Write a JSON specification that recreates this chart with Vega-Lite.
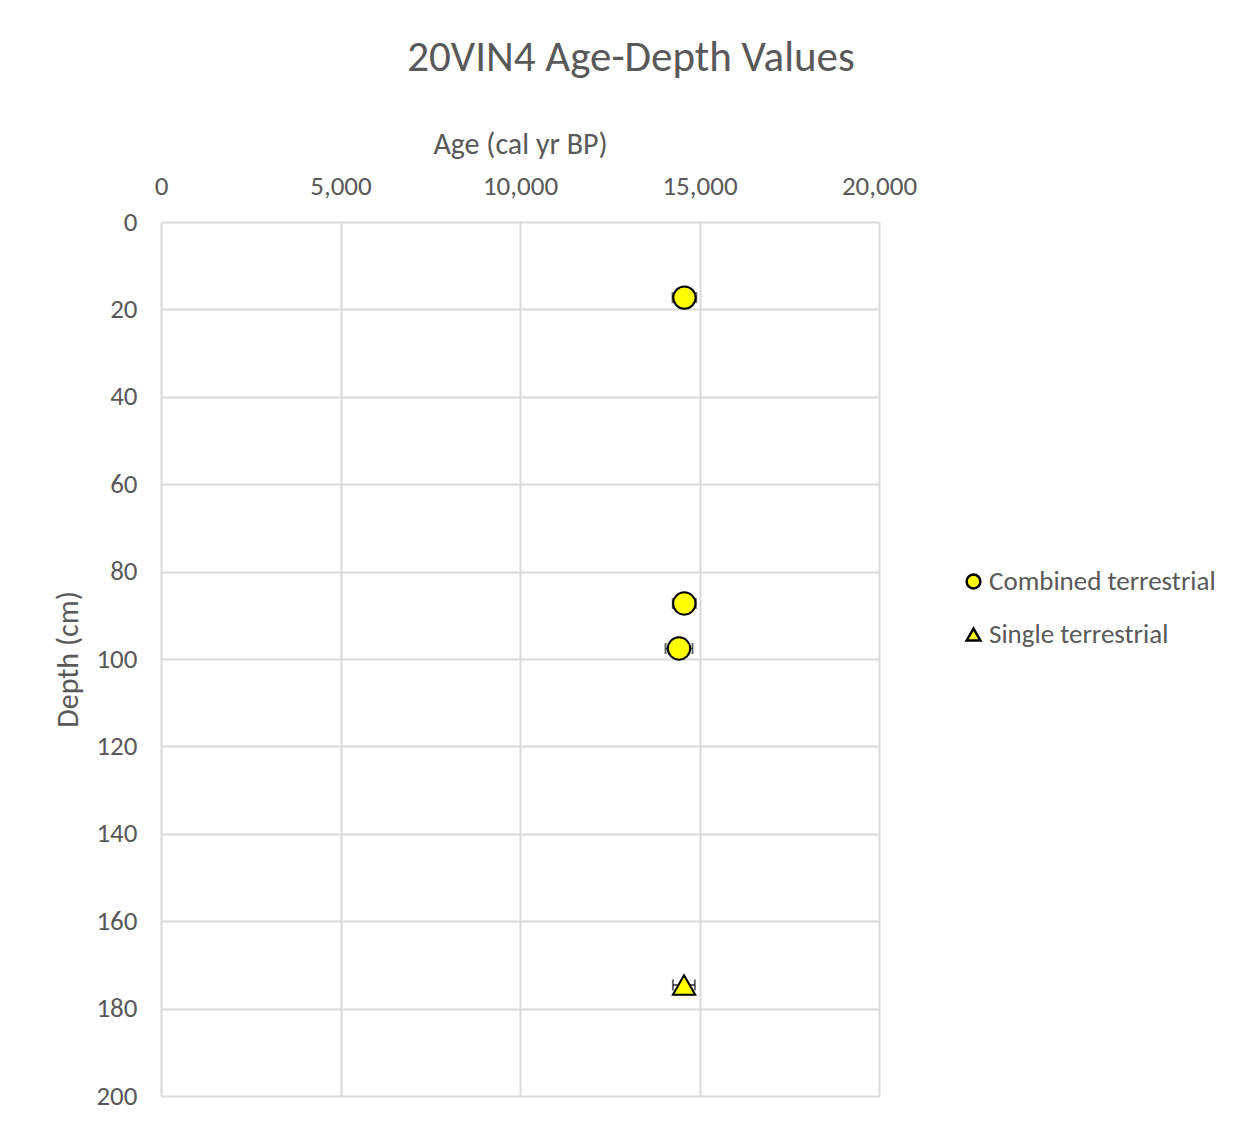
{
  "$schema": "https://vega.github.io/schema/vega-lite/v6.json",
  "width": 718,
  "height": 874,
  "autosize": {"type": "none"},
  "padding": {"left": 161, "top": 222, "right": 374, "bottom": 32},
  "background": "white",
  "title": {
    "text": "20VIN4 Age-Depth Values",
    "font": "Carlito, Lato",
    "fontSize": 43,
    "fontWeight": "normal",
    "color": "#595959",
    "anchor": "middle",
    "dx": 111,
    "offset": 49
  },
  "data": {
    "values": [
      {"age": 14580, "depth": 17.3, "lo": 14250, "hi": 14910, "type": "Combined terrestrial"},
      {"age": 14577, "depth": 87.3, "lo": 14257, "hi": 14897, "type": "Combined terrestrial"},
      {"age": 14429, "depth": 97.6, "lo": 14054, "hi": 14805, "type": "Combined terrestrial"},
      {"age": 14570, "depth": 174.6, "lo": 14260, "hi": 14870, "type": "Single terrestrial"}
    ]
  },
  "encoding": {
    "y": {
      "field": "depth",
      "type": "quantitative",
      "scale": {"domain": [0, 200], "reverse": true, "nice": false, "zero": false},
      "axis": {
        "title": "Depth (cm)",
        "values": [0, 20, 40, 60, 80, 100, 120, 140, 160, 180, 200],
        "labelPadding": 24,
        "titlePadding": 12
      }
    }
  },
  "layer": [
    {
      "mark": {"type": "rule", "color": "#262626", "strokeWidth": 1.5},
      "encoding": {
        "x": {"field": "lo", "type": "quantitative", "scale": {"domain": [0, 20000], "nice": false},
          "axis": {"orient": "top", "title": "Age (cal yr BP)", "values": [0, 5000, 10000, 15000, 20000], "format": ",d", "labelPadding": 22, "titlePadding": 13}},
        "x2": {"field": "hi"}
      }
    },
    {
      "mark": {"type": "tick", "orient": "vertical", "color": "#262626", "size": 11, "thickness": 2},
      "encoding": {
        "x": {"field": "lo", "type": "quantitative", "title": "Age (cal yr BP)"}
      }
    },
    {
      "mark": {"type": "tick", "orient": "vertical", "color": "#262626", "size": 11, "thickness": 2},
      "encoding": {
        "x": {"field": "hi", "type": "quantitative", "title": "Age (cal yr BP)"}
      }
    },
    {
      "mark": {"type": "point", "filled": true, "strokeWidth": 2, "opacity": 1, "size": 500},
      "encoding": {
        "x": {"field": "age", "type": "quantitative", "title": "Age (cal yr BP)"},
        "shape": {
          "field": "type",
          "type": "nominal",
          "scale": {"domain": ["Combined terrestrial", "Single terrestrial"], "range": ["circle", "triangle-up"]},
          "legend": {
            "title": null,
            "orient": "none",
            "legendX": 799,
            "legendY": 346,
            "symbolSize": 190,
            "symbolStrokeWidth": 2.5,
            "symbolOpacity": 1,
            "labelFont": "Carlito, Lato",
            "labelFontSize": 27,
            "labelColor": "#595959",
            "labelOffset": 2,
            "rowPadding": 25,
            "padding": 0,
            "labelLimit": 400
          }
        },
        "fill": {
          "field": "type",
          "type": "nominal",
          "scale": {"domain": ["Combined terrestrial", "Single terrestrial"], "range": ["#FFFF00", "#FFFF00"]},
          "legend": {
            "title": null,
            "orient": "none",
            "legendX": 799,
            "legendY": 346,
            "symbolSize": 190,
            "symbolStrokeWidth": 2.5,
            "symbolOpacity": 1,
            "labelFont": "Carlito, Lato",
            "labelFontSize": 27,
            "labelColor": "#595959",
            "labelOffset": 2,
            "rowPadding": 25,
            "padding": 0,
            "labelLimit": 400
          }
        },
        "stroke": {
          "field": "type",
          "type": "nominal",
          "scale": {"domain": ["Combined terrestrial", "Single terrestrial"], "range": ["#000000", "#000000"]},
          "legend": {
            "title": null,
            "orient": "none",
            "legendX": 799,
            "legendY": 346,
            "symbolSize": 190,
            "symbolStrokeWidth": 2.5,
            "symbolOpacity": 1,
            "labelFont": "Carlito, Lato",
            "labelFontSize": 27,
            "labelColor": "#595959",
            "labelOffset": 2,
            "rowPadding": 25,
            "padding": 0,
            "labelLimit": 400
          }
        }
      }
    }
  ],
  "config": {
    "view": {"stroke": null},
    "axis": {
      "grid": true,
      "gridColor": "#d9d9d9",
      "gridWidth": 2,
      "domain": false,
      "ticks": false,
      "tickSize": 0,
      "labelFlush": false,
      "labelOverlap": false,
      "labelFont": "Carlito, Lato",
      "labelFontSize": 27,
      "labelColor": "#595959",
      "titleFont": "Carlito, Lato",
      "titleFontSize": 30,
      "titleFontWeight": "normal",
      "titleColor": "#595959"
    }
  }
}
